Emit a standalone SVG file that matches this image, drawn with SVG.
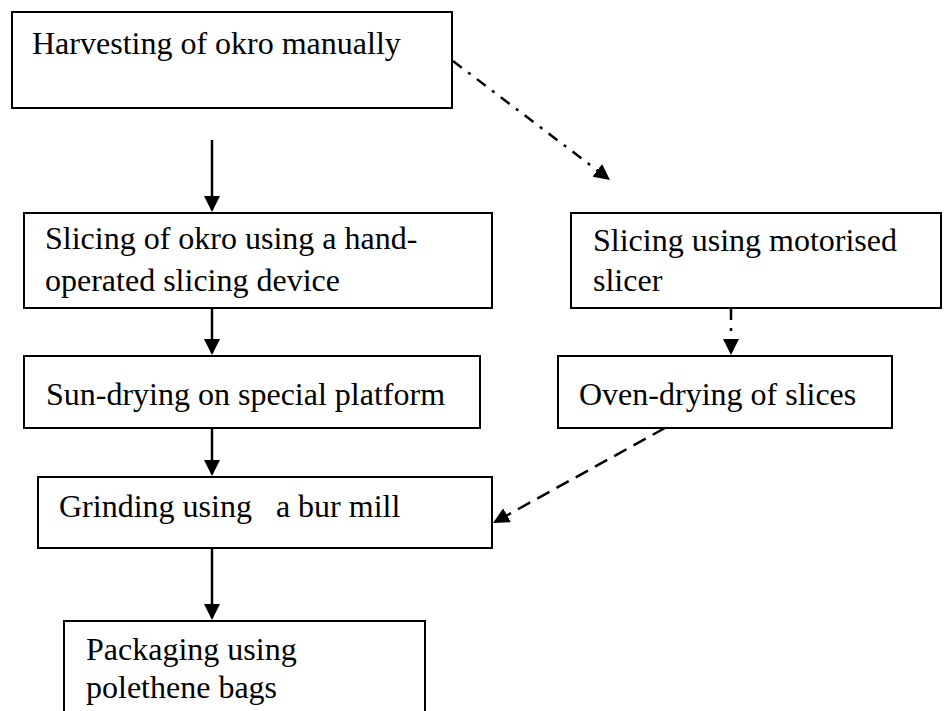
<svg xmlns="http://www.w3.org/2000/svg" width="948" height="711" viewBox="0 0 948 711">
<style>
  .box { fill: #fff; stroke: #000; stroke-width: 2; }
  .lbl { font-family: "Liberation Serif", "Times New Roman", serif; font-size: 32px; fill: #000; white-space: pre; }
  .conn { fill: none; stroke: #000; stroke-width: 2.5; }
  .solid { marker-end: url(#ah); }
  .dashdot { stroke-dasharray: 11 8 3 8; marker-end: url(#ah); }
  .dashed { stroke-dasharray: 14 8; marker-end: url(#ah); }
</style>
<defs>
  <marker id="ah" viewBox="0 0 16 16" refX="14" refY="8" markerWidth="16" markerHeight="16" markerUnits="userSpaceOnUse" orient="auto">
    <path d="M0,0 L16,8 L0,16 z" fill="#000" stroke="none"/>
  </marker>
</defs>
<rect width="948" height="711" fill="#fff"/>
<g id="n1">
  <rect class="box" x="12" y="12" width="440" height="96"/>
  <text class="lbl" x="32" y="54">Harvesting of okro manually</text>
</g>
<g id="n2">
  <rect class="box" x="24" y="213" width="468" height="95"/>
  <text class="lbl" x="45" y="249">Slicing of okro using a hand-</text>
  <text class="lbl" x="45" y="291">operated slicing device</text>
</g>
<g id="n3">
  <rect class="box" x="24" y="356" width="456" height="72"/>
  <text class="lbl" x="46" y="405">Sun-drying on special platform</text>
</g>
<g id="n4">
  <rect class="box" x="38" y="477" width="454" height="71"/>
  <text class="lbl" x="59" y="517">Grinding using   a bur mill</text>
</g>
<g id="n5">
  <rect class="box" x="64" y="621" width="361" height="100"/>
  <text class="lbl" x="86" y="660">Packaging using</text>
  <text class="lbl" x="86" y="698">polethene bags</text>
</g>
<g id="n6">
  <rect class="box" x="571" y="213" width="370" height="95"/>
  <text class="lbl" x="593" y="251">Slicing using motorised</text>
  <text class="lbl" x="593" y="291">slicer</text>
</g>
<g id="n7">
  <rect class="box" x="558" y="356" width="334" height="72"/>
  <text class="lbl" x="579" y="405">Oven-drying of slices</text>
</g>
<g id="connectors">
  <line class="conn solid" x1="212" y1="140" x2="212" y2="210"/>
  <line class="conn solid" x1="212" y1="309" x2="212" y2="353"/>
  <line class="conn solid" x1="212" y1="429" x2="212" y2="474"/>
  <line class="conn solid" x1="212" y1="549" x2="212" y2="618"/>
  <line class="conn dashdot" x1="453" y1="61" x2="608.4" y2="178.8"/>
  <line class="conn dashdot" x1="731" y1="309" x2="731" y2="353"/>
  <line class="conn dashed" x1="665" y1="428" x2="494.8" y2="522"/>
</g>
</svg>
